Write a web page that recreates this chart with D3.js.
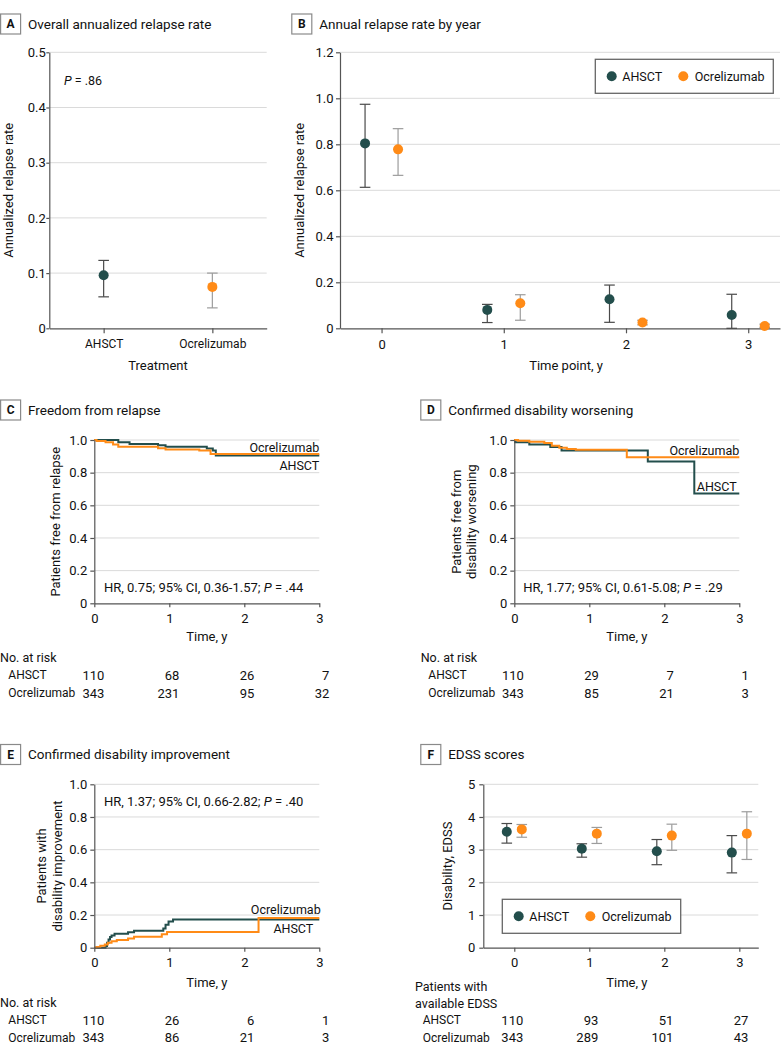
<!DOCTYPE html>
<html><head><meta charset="utf-8">
<script src="https://cdn.jsdelivr.net/npm/d3@7"></script>
<style>
body{margin:0;background:#fff;}
svg{display:block;font-family:Roboto,'Liberation Sans',sans-serif;}
text{fill:#111;}
</style></head><body>
<svg id="c" width="783" height="1056"></svg>
<script>
// ---------------- DATA ----------------
const groups = ["AHSCT", "Ocrelizumab"];
// Panel A: overall annualized relapse rate
const overallRate = [0.096, 0.075];
const overallLow  = [0.057, 0.037];
const overallHigh = [0.123, 0.100];
const ticksA = [0, 0.1, 0.2, 0.3, 0.4, 0.5];

// Panel B: annual relapse rate by year
const yearsB = [0, 1, 2, 3];
const arrAhsct     = [0.804, 0.080, 0.126, 0.058];
const arrAhsctLow  = [0.613, 0.025, 0.026, 0.000];
const arrAhsctHigh = [0.974, 0.104, 0.188, 0.148];
const arrOcr       = [0.778, 0.109, 0.025, 0.010];
const arrOcrLow    = [0.665, 0.035, 0.015, 0.004];
const arrOcrHigh   = [0.868, 0.146, 0.035, 0.018];
const ticksB = [0, 0.2, 0.4, 0.6, 0.8, 1.0, 1.2];

// Panel C: freedom from relapse (KM)
const relTimesAhsct = [0, 0.32, 0.47, 0.85, 0.95, 1.50, 1.58, 1.62, 3];
const relSurvAhsct  = [1.0, 0.986, 0.975, 0.968, 0.958, 0.948, 0.935, 0.905, 0.905];
const relTimesOcr   = [0, 0.03, 0.15, 0.25, 0.32, 0.85, 0.95, 1.40, 1.55, 3];
const relSurvOcr    = [1.0, 0.994, 0.986, 0.972, 0.958, 0.950, 0.942, 0.935, 0.914, 0.914];
const riskRelAhsct = [110, 68, 26, 7];
const riskRelOcr   = [343, 231, 95, 32];

// Panel D: confirmed disability worsening (KM)
const cdwTimesAhsct = [0, 0.01, 0.20, 0.48, 0.63, 1.78, 2.40, 3];
const cdwSurvAhsct  = [1.0, 0.986, 0.973, 0.957, 0.935, 0.868, 0.673, 0.673];
const cdwTimesOcr   = [0, 0.05, 0.20, 0.40, 0.50, 0.60, 0.70, 0.82, 1.50, 3];
const cdwSurvOcr    = [1.0, 0.995, 0.99, 0.982, 0.965, 0.953, 0.945, 0.940, 0.895, 0.895];
const riskCdwAhsct = [110, 29, 7, 1];
const riskCdwOcr   = [343, 85, 21, 3];

// Panel E: confirmed disability improvement (cumulative)
const cdiTimesAhsct = [0, 0.15, 0.17, 0.19, 0.21, 0.23, 0.27, 0.45, 0.53, 0.92, 0.95, 0.99, 1.05, 3];
const cdiCumAhsct   = [0, 0.01, 0.03, 0.05, 0.065, 0.075, 0.085, 0.095, 0.104, 0.118, 0.14, 0.16, 0.173, 0.173];
const cdiTimesOcr   = [0, 0.03, 0.08, 0.14, 0.18, 0.23, 0.30, 0.45, 0.53, 0.90, 0.97, 2.19, 3];
const cdiCumOcr     = [0, 0.005, 0.012, 0.02, 0.03, 0.04, 0.047, 0.057, 0.067, 0.082, 0.096, 0.182, 0.182];
const riskCdiAhsct = [110, 26, 6, 1];
const riskCdiOcr   = [343, 86, 21, 3];

// Panel F: EDSS scores
const yearsF = [0, 1, 2, 3];
const edssAhsct     = [3.55, 3.03, 2.95, 2.91];
const edssAhsctLow  = [3.20, 2.77, 2.54, 2.29];
const edssAhsctHigh = [3.80, 3.18, 3.31, 3.43];
const edssOcr       = [3.62, 3.49, 3.43, 3.49];
const edssOcrLow    = [3.38, 3.19, 2.98, 2.70];
const edssOcrHigh   = [3.77, 3.68, 3.78, 4.16];
const availAhsct = [110, 93, 51, 27];
const availOcr   = [343, 289, 101, 43];

const kmTicksY = [0, 0.2, 0.4, 0.6, 0.8, 1.0];
const kmTicksX = [0, 1, 2, 3];
const ticksF = [0, 1, 2, 3, 4, 5];

// ---------------- STYLE ----------------
const DARK = "#234e4c", ORANGE = "#ff8b17";
const ERR_D = "#4a4a4a", ERR_O = "#9c9c9c";
const GRID = "#dadada", AX = "#555";
const NUM = 13;
const svg = d3.select("#c");
const fmt1 = d => d === 0 ? "0" : d3.format(".1f")(d);
const fmt0 = d3.format("d");

function panelTitle(x, y, letter, text) {
  svg.append("rect").attr("x", x + 0.6).attr("y", y - 10).attr("width", 20).attr("height", 20)
    .attr("fill", "#fff").attr("stroke", "#8a8a8a").attr("stroke-width", 1.2);
  svg.append("text").attr("x", x + 10.6).attr("y", y).attr("dy", "0.36em").attr("text-anchor", "middle")
    .attr("font-weight", "bold").attr("font-size", 12).text(letter);
  svg.append("text").attr("x", x + 28).attr("y", y).attr("dy", "0.36em").attr("font-size", 13.5).text(text);
}
function grid(x0, x1, y, ticks) {
  svg.append("g").selectAll("line").data(ticks.filter(d => d !== 0)).join("line")
    .attr("x1", x0).attr("x2", x1).attr("y1", d => y(d)).attr("y2", d => y(d))
    .attr("stroke", GRID).attr("stroke-width", 1);
}
function styleAxis(g, size) {
  g.selectAll("path,line").attr("stroke", AX).attr("stroke-width", 1.2);
  g.selectAll("text").attr("fill", "#111").attr("font-size", size || NUM).attr("font-family", "Roboto,'Liberation Sans',sans-serif");
}
function yAxis(x0, y, ticks, fmt, size, pad) {
  const g = svg.append("g").attr("transform", `translate(${x0},0)`)
    .call(d3.axisLeft(y).tickValues(ticks).tickFormat(fmt).tickSize(size).tickSizeOuter(0).tickPadding(pad));
  styleAxis(g);
}
function xAxis(y0, x, ticks, size, pad) {
  const g = svg.append("g").attr("transform", `translate(0,${y0})`)
    .call(d3.axisBottom(x).tickValues(ticks).tickFormat(fmt0).tickSize(size).tickSizeOuter(0).tickPadding(pad));
  styleAxis(g);
  return g;
}
function label(x, y, text, opts = {}) {
  const t = svg.append("text").attr("x", x).attr("y", y).attr("dy", "0.36em")
    .attr("font-size", opts.size || 13).attr("text-anchor", opts.anchor || "start");
  if (opts.rotate) t.attr("transform", `rotate(-90,${x},${y})`);
  t.text(text);
  return t;
}
function pText(x, y, pre, post, size) {
  const t = svg.append("text").attr("x", x).attr("y", y).attr("dy", "0.36em").attr("font-size", size);
  t.append("tspan").text(pre);
  t.append("tspan").attr("font-style", "italic").text("P");
  t.append("tspan").text(post);
}
function errBar(x, yLo, yHi, color) {
  const g = svg.append("g").attr("stroke", color).attr("stroke-width", 1.2);
  g.append("line").attr("x1", x).attr("x2", x).attr("y1", yLo).attr("y2", yHi);
  g.append("line").attr("x1", x - 5.3).attr("x2", x + 5.3).attr("y1", yLo).attr("y2", yLo);
  g.append("line").attr("x1", x - 5.3).attr("x2", x + 5.3).attr("y1", yHi).attr("y2", yHi);
}
function dot(x, y, color) {
  svg.append("circle").attr("cx", x).attr("cy", y).attr("r", 5).attr("fill", color);
}
function legend(x, y, w, h) {
  svg.append("rect").attr("x", x).attr("y", y).attr("width", w).attr("height", h)
    .attr("fill", "#fff").attr("stroke", "#666").attr("stroke-width", 1.3);
  const cy = y + h / 2;
  dot(x + 16.4, cy, DARK);
  label(x + 27, cy, groups[0], {size: 12.5});
  dot(x + 88, cy, ORANGE);
  label(x + 99.4, cy, groups[1], {size: 12.5});
}
function kmLine(x, y, times, vals, color) {
  const pts = times.map((t, i) => [t, vals[i]]);
  svg.append("path").datum(pts)
    .attr("d", d3.line().x(d => x(d[0])).y(d => y(d[1])).curve(d3.curveStepAfter))
    .attr("fill", "none").attr("stroke", color).attr("stroke-width", 2);
}
function riskRows(x, labelX, rowY, dx, rows) {
  rows.forEach((r, j) => {
    label(labelX, rowY[j], r.name, {size: 12});
    r.vals.forEach((v, i) => label(x(kmTicksX[i]) + dx, rowY[j], v, {size: NUM, anchor: "end"}));
  });
}

// ---------------- PANEL A ----------------
{
  const x = d3.scalePoint().domain(groups).range([49.3, 266.7]).padding(0.5);
  const y = d3.scaleLinear().domain([0, 0.5]).range([328.3, 52.3]);
  panelTitle(0, 24, "A", "Overall annualized relapse rate");
  grid(49.3, 266.7, y, ticksA);
  yAxis(49.3, y, ticksA, fmt1, 3, 0.5);
  const g = svg.append("g").attr("transform", "translate(0,328.3)")
    .call(d3.axisBottom(x).tickSize(5).tickSizeOuter(0).tickPadding(6));
  styleAxis(g, 12);
  label(8.5, 190.3, "Annualized relapse rate", {rotate: true, anchor: "middle"});
  label(158, 365, "Treatment", {anchor: "middle"});
  pText(64, 80, "", " = .86", 12.5);
  const cols = [ERR_D, ERR_O], fills = [DARK, ORANGE];
  groups.forEach((gname, i) => {
    errBar(x(gname), y(overallLow[i]), y(overallHigh[i]), cols[i]);
    dot(x(gname), y(overallRate[i]), fills[i]);
  });
}

// ---------------- PANEL B ----------------
{
  const x = d3.scaleLinear().domain([-0.34, 3.26]).range([340, 780]);
  const y = d3.scaleLinear().domain([0, 1.2]).range([328.3, 52.3]);
  const off = 0.135;
  panelTitle(291.2, 24, "B", "Annual relapse rate by year");
  grid(340, 780, y, ticksB);
  yAxis(340, y, ticksB, fmt1, 4, 2.5);
  xAxis(328.3, x, yearsB, 5, 6);
  label(299.3, 190.3, "Annualized relapse rate", {rotate: true, anchor: "middle"});
  label(566, 365, "Time point, y", {anchor: "middle"});
  yearsB.forEach((t, i) => {
    errBar(x(t - off), y(arrAhsctLow[i]), y(arrAhsctHigh[i]), ERR_D);
    errBar(x(t + off), y(arrOcrLow[i]), y(arrOcrHigh[i]), ERR_O);
    dot(x(t - off), y(arrAhsct[i]), DARK);
    dot(x(t + off), y(arrOcr[i]), ORANGE);
  });
  legend(595.3, 59.3, 178, 34);
}

// ---------------- PANEL C ----------------
{
  const x = d3.scaleLinear().domain([0, 3]).range([94.3, 319.3]);
  const y = d3.scaleLinear().domain([0, 1]).range([603.3, 440]);
  panelTitle(0, 410, "C", "Freedom from relapse");
  grid(94.3, 319.3, y, kmTicksY);
  kmLine(x, y, relTimesAhsct, relSurvAhsct, DARK);
  kmLine(x, y, relTimesOcr, relSurvOcr, ORANGE);
  yAxis(94.3, y, kmTicksY, fmt1, 4, 3);
  xAxis(603.3, x, kmTicksX, 4, 6.5);
  label(55, 521.7, "Patients free from relapse", {rotate: true, anchor: "middle"});
  label(206.8, 636.7, "Time, y", {anchor: "middle"});
  pText(104, 587.7, "HR, 0.75; 95% CI, 0.36-1.57; ", " = .44", 13);
  label(319.3, 447.3, "Ocrelizumab", {size: 12.5, anchor: "end"});
  label(319.3, 465, "AHSCT", {size: 12.5, anchor: "end"});
  label(0, 657.7, "No. at risk", {size: 12.5});
  riskRows(x, 8.3, [675, 693], 10, [{name: "AHSCT", vals: riskRelAhsct}, {name: "Ocrelizumab", vals: riskRelOcr}]);
}

// ---------------- PANEL D ----------------
{
  const x = d3.scaleLinear().domain([0, 3]).range([514.3, 739.3]);
  const y = d3.scaleLinear().domain([0, 1]).range([603.3, 440]);
  panelTitle(420.2, 410, "D", "Confirmed disability worsening");
  grid(514.3, 739.3, y, kmTicksY);
  kmLine(x, y, cdwTimesAhsct, cdwSurvAhsct, DARK);
  kmLine(x, y, cdwTimesOcr, cdwSurvOcr, ORANGE);
  yAxis(514.3, y, kmTicksY, fmt1, 4, 3);
  xAxis(603.3, x, kmTicksX, 4, 6.5);
  label(456.7, 521.7, "Patients free from", {rotate: true, anchor: "middle"});
  label(471.7, 521.7, "disability worsening", {rotate: true, anchor: "middle"});
  label(626.8, 636.7, "Time, y", {anchor: "middle"});
  pText(523.3, 587.7, "HR, 1.77; 95% CI, 0.61-5.08; ", " = .29", 13);
  label(739.3, 450, "Ocrelizumab", {size: 12.5, anchor: "end"});
  label(736.7, 486, "AHSCT", {size: 12.5, anchor: "end"});
  label(420.7, 657.7, "No. at risk", {size: 12.5});
  riskRows(x, 428.3, [675, 693], 9.5, [{name: "AHSCT", vals: riskCdwAhsct}, {name: "Ocrelizumab", vals: riskCdwOcr}]);
}

// ---------------- PANEL E ----------------
{
  const x = d3.scaleLinear().domain([0, 3]).range([94.3, 319.3]);
  const y = d3.scaleLinear().domain([0, 1]).range([947.7, 784.3]);
  panelTitle(0, 754.5, "E", "Confirmed disability improvement");
  grid(94.3, 319.3, y, kmTicksY);
  kmLine(x, y, cdiTimesAhsct, cdiCumAhsct, DARK);
  kmLine(x, y, cdiTimesOcr, cdiCumOcr, ORANGE);
  yAxis(94.3, y, kmTicksY, fmt1, 4, 3);
  xAxis(947.7, x, kmTicksX, 4, 6.5);
  label(41.7, 866, "Patients with", {rotate: true, anchor: "middle"});
  label(57.3, 866, "disability improvement", {rotate: true, anchor: "middle"});
  label(206.8, 982.3, "Time, y", {anchor: "middle"});
  pText(104, 801, "HR, 1.37; 95% CI, 0.66-2.82; ", " = .40", 13);
  label(320.7, 909, "Ocrelizumab", {size: 12.5, anchor: "end"});
  label(313.3, 928.7, "AHSCT", {size: 12.5, anchor: "end"});
  label(0, 1002.3, "No. at risk", {size: 12.5});
  riskRows(x, 8.3, [1020, 1037.7], 10, [{name: "AHSCT", vals: riskCdiAhsct}, {name: "Ocrelizumab", vals: riskCdiOcr}]);
}

// ---------------- PANEL F ----------------
{
  const x = d3.scaleLinear().domain([-0.413, 3.253]).range([483.3, 758.3]);
  const y = d3.scaleLinear().domain([0, 5]).range([947.7, 784.3]);
  const off = 0.1;
  panelTitle(420.2, 754.5, "F", "EDSS scores");
  grid(483.3, 758.3, y, ticksF);
  yAxis(483.3, y, ticksF, fmt0, 4, 4);
  xAxis(947.7, x, yearsF, 4, 6.5);
  label(447.3, 866, "Disability, EDSS", {rotate: true, anchor: "middle"});
  label(626.8, 982.3, "Time, y", {anchor: "middle"});
  yearsF.forEach((t, i) => {
    errBar(x(t - off), y(edssAhsctLow[i]), y(edssAhsctHigh[i]), ERR_D);
    errBar(x(t + off), y(edssOcrLow[i]), y(edssOcrHigh[i]), ERR_O);
    dot(x(t - off), y(edssAhsct[i]), DARK);
    dot(x(t + off), y(edssOcr[i]), ORANGE);
  });
  legend(502.3, 899.3, 178.4, 34);
  label(415, 986.7, "Patients with", {size: 12.5});
  label(415, 1003.3, "available EDSS", {size: 12.5});
  riskRows(x, 422.7, [1020, 1037.7], 9, [{name: "AHSCT", vals: availAhsct}, {name: "Ocrelizumab", vals: availOcr}]);
}
</script>
</body></html>
